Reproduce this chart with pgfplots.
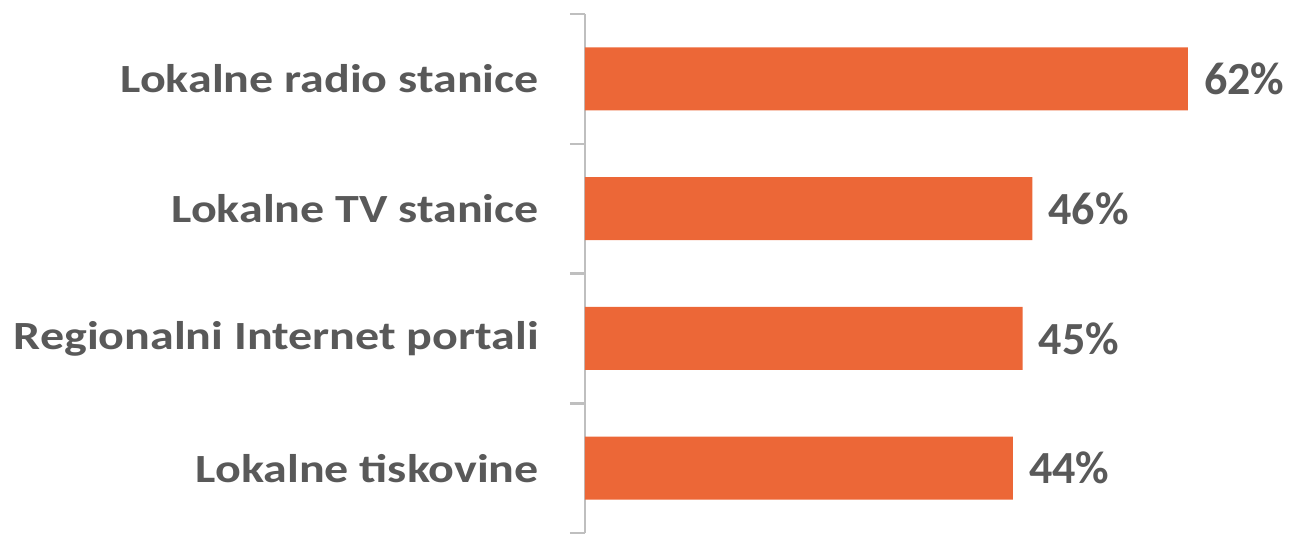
\documentclass[border=0pt]{standalone}
\usepackage{pgfplots}
\pgfplotsset{compat=1.18}
\usepackage{fontspec}
\setmainfont{Carlito}
\newfontfamily\lblfont{Carlito}[FakeStretch=1.2]
\definecolor{barc}{HTML}{EC6737}
\definecolor{txt}{HTML}{595959}
\definecolor{axc}{HTML}{BFBFBF}
\begin{document}
\begin{tikzpicture}
\begin{axis}[
  at={(0,0)}, anchor=south west,
  scale only axis,
  width=680.75pt, height=519pt,
  xmin=0, xmax=70,
  ymin=-0.5, ymax=3.5,
  y dir=reverse,
  xbar, bar width=63pt,
  axis x line=none,
  axis y line*=left,
  y axis line style={axc, line width=2.5pt, -},
  ytick={0,1,2,3},
  yticklabels={Lokalne radio stanice, Lokalne TV stanice, Regionalni Internet portali, Lokalne tiskovine},
  minor ytick={-0.5,0.5,1.5,2.5,3.5},
  major tick length=0pt,
  minor tick length=15pt,
  tick align=outside,
  minor tick style={axc, line width=2.5pt},
  /pgf/number format/assume math mode=true,
  yticklabel style={font=\lblfont\fontsize{40}{48}\selectfont\bfseries, text=txt, inner sep=0pt, anchor=east, xshift=-46pt},
  nodes near coords={\pgfmathprintnumber{\pgfplotspointmeta}\%},
  nodes near coords style={font=\fontsize{46}{54}\selectfont\bfseries, text=txt, inner sep=0pt, anchor=west, xshift=16pt},
  clip=false,
]
\addplot[fill=barc, draw=none] coordinates {(62,0) (46,1) (45,2) (44,3)};
\end{axis}
\pgfresetboundingbox
\path (-585pt,-9pt) rectangle (714pt,533pt);
\end{tikzpicture}
\end{document}
